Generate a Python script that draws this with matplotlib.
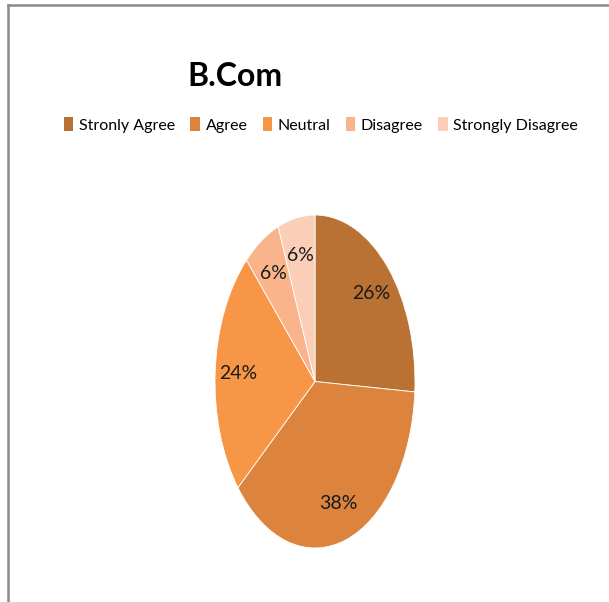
import matplotlib
matplotlib.use("Agg")
from matplotlib import pyplot as plt
from matplotlib.patches import Patch
from matplotlib.lines import Line2D

categories = ['Stronly Agree', 'Agree', 'Neutral', 'Disagree', 'Strongly Disagree']
values = [26, 38, 24, 6, 6]
colors = ['#B97233', '#DC843D', '#F79646', '#F9B48B', '#FBCEB8']

plt.rcParams['font.family'] = ['Lato', 'DejaVu Sans']

W, H = 609, 602
fig = plt.figure(figsize=(W / 100, H / 100), dpi=100)

# pie is stretched vertically, like the original
ax = fig.add_axes([215 / W, (H - 548) / H, 200 / W, 333 / H])
wedges, texts, autotexts = ax.pie(values, colors=colors, startangle=90, counterclock=False,
                                  autopct='%1.0f%%', pctdistance=0.77,
                                  wedgeprops={'edgecolor': 'white', 'linewidth': 0.6},
                                  textprops={'fontsize': 14, 'color': '#1a1a1a'})
ax.set_aspect('auto')
ax.set_xlim(-1, 1)
ax.set_ylim(-1, 1)
ax.axis('off')

fig.text(235 / W, 1 - 76 / H, 'B.Com', fontsize=23, fontweight='bold', ha='center', va='center')

handles = [Patch(facecolor=c, edgecolor='none') for c in colors]
fig.legend(handles, categories, loc='center', bbox_to_anchor=(321 / W, 1 - 125 / H), ncol=5,
           frameon=False, fontsize=11.5, handlelength=0.6, handleheight=0.9, handletextpad=0.35,
           columnspacing=0.95, borderpad=0)

# chart frame (only top and left edges show)
fig.add_artist(Line2D([7.5 / W, 7.5 / W], [0, 1 - 5 / H], color='#8a8a8a', linewidth=1.8))
fig.add_artist(Line2D([7.5 / W, 1], [1 - 5 / H, 1 - 5 / H], color='#8a8a8a', linewidth=1.8))

fig.savefig('out.png', dpi=100, facecolor='white')
